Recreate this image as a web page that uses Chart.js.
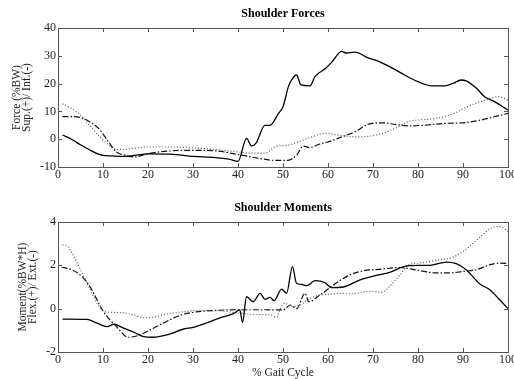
<!DOCTYPE html>
<html lang="en">
<head>
    <meta charset="UTF-8">
    <title>Shoulder Forces and Moments</title>
    <script src="https://cdn.jsdelivr.net/npm/chart.js"></script>
    <style>
        body {
            margin: 0;
            background: #ffffff;
            overflow: hidden;
        }
        canvas {
            display: block;
        }
    </style>
</head>
<body>
    <canvas id="forceChart" width="514" height="190"></canvas>
    <canvas id="momentChart" width="514" height="189"></canvas>

    <script>
        // Shoulder forces (%BW), solid / dotted / dash-dot curves
        const forceSolidX = [1,3,5,7,9,10,12,15,17,20,25,30,35,38,40,41.9,43,44,46,47.1,49,50,51.2,51.9,53,54,56,57.1,59.5,61,63,64,66,69,71,73.7,77,80,83,86,87.8,89.6,90.7,93,94.8,97,100];
        const forceSolidY = [1.5,0,-2,-3.8,-5.4,-5.8,-6,-6.2,-5.8,-5.3,-5.4,-6.2,-6.6,-7.2,-8,0.3,-2.4,-1.4,5,5,9.3,11.7,18.9,21.3,23.1,19.5,19.2,22.5,25.5,28,31.6,31,31.3,29.2,28.2,26.1,23.1,20.7,19.2,19.2,20.1,21.3,21,18.3,15.3,13.5,10.5];
        const forceDotX = [1,3,5,7,9,11,13,15,20,25,30,35,40,43,46,48.5,51,53,56,59.6,63,67,70,72,75,78,80,84,88,91,95,97.8,100];
        const forceDotY = [12.7,11,8.7,5,1.4,-1.8,-3.7,-3.6,-2.8,-2.8,-3.1,-3.7,-4.6,-5,-5,-2.6,-2.2,-1.2,0.6,2.1,1.3,0.8,1.3,2,4,6.4,6.9,7.5,9.3,11.7,14.1,15.3,14.1];
        const forceDashX = [1,3,5,7,9,11,13,15,17,20,25,30,35,40,45,48,51,53,54.5,56,58,60,63,66,69,72,75,78,82,86,90,94,97,100];
        const forceDashY = [8.1,8.1,7.8,6.3,3.9,-0.4,-4.6,-5.8,-6.4,-5.2,-4.2,-4,-4.2,-5.5,-7,-7.6,-7.6,-5.8,-2.5,-3,-1.8,-1,0.8,2.7,5.4,5.9,5.3,4.8,5.1,5.7,5.9,6.9,8.1,9.3];

        // Shoulder moments (%BW*H)
        const momentSolidX = [1,6.4,8.7,10.9,12.4,14.6,17,19,21.2,24.2,27.8,30,33,36,39,40.4,41,41.9,43.4,44.9,46,47.1,48,49.7,50.8,52.1,53,54.1,55.3,57.1,59.3,60.8,63.4,67,71.5,73.7,77,80,82.6,86.3,88.5,90.7,93.7,95.9,98.1,100];
        const momentSolidY = [-0.48,-0.49,-0.67,-0.83,-0.72,-0.9,-1.1,-1.29,-1.32,-1.21,-0.95,-0.86,-0.66,-0.43,-0.23,-0.06,-0.64,0.55,0.32,0.71,0.43,0.52,0.37,0.9,0.71,1.94,1.17,1.12,1.06,1.29,1.2,0.97,1.0,1.32,1.57,1.68,1.95,2,2,2.15,2.08,1.8,1.15,0.88,0.42,0];
        const momentDotX = [1,2,3,5,7,8.7,10,11.6,14,17,19,21,24,28,32,36,40,44,47,48.6,49.3,50.4,52,53.8,56,58.2,60,62.7,65,68,70,72,74,76,78,80,84,88,91,94,96,98,100];
        const momentDotY = [2.94,2.9,2.6,1.8,0.95,0.25,-0.08,-0.17,-0.18,-0.3,-0.42,-0.4,-0.25,-0.14,-0.08,-0.1,-0.2,-0.27,-0.28,-0.4,-0.06,0.25,0.1,0.17,0.48,0.63,0.65,0.71,0.68,0.78,0.8,0.75,1.1,1.57,2.03,2.1,2.23,2.4,2.8,3.34,3.68,3.8,3.57];
        const momentDashX = [0.8,3,4.9,7.1,10.1,13,15.6,18.2,21.2,25.6,27.8,30,35,40,45,50,51.6,53,54.9,55.7,58.2,61.2,64.1,67,72,76,80,84,87,90,93,96,98,100];
        const momentDashY = [1.91,1.8,1.56,1.02,-0.14,-0.83,-1.32,-1.21,-0.9,-0.44,-0.26,-0.17,-0.08,-0.05,-0.05,-0.06,0.17,0,0.71,0.32,0.63,1.09,1.48,1.71,1.83,1.9,1.77,1.65,1.65,1.72,1.8,2.03,2.1,2.08];

        const xTicks = [0, 100, 10];
        const forceTicks = [-10, 40, 10];
        const momentTicks = [-2, 4, 2];

        const serif = '"Liberation Serif", "Times New Roman", serif';

        function toPoints(xs, ys) {
            return xs.map((x, i) => ({ x: x, y: ys[i] }));
        }

        // frame with inward ticks + centred title (matlab look)
        const framePlugin = {
            id: 'frame',
            afterDraw(chart, args, opts) {
                const ctx = chart.ctx;
                const a = chart.chartArea;
                const x = chart.scales.x;
                const y = chart.scales.y;
                ctx.save();
                ctx.strokeStyle = '#555';
                ctx.lineWidth = 1;
                ctx.strokeRect(a.left + 0.5, a.top + 0.5, a.right - a.left, a.bottom - a.top);
                ctx.beginPath();
                x.ticks.forEach(t => {
                    const px = Math.round(x.getPixelForValue(t.value)) + 0.5;
                    ctx.moveTo(px, a.top);
                    ctx.lineTo(px, a.top + 4);
                    ctx.moveTo(px, a.bottom);
                    ctx.lineTo(px, a.bottom - 4);
                });
                y.ticks.forEach(t => {
                    const py = Math.round(y.getPixelForValue(t.value)) + 0.5;
                    ctx.moveTo(a.left, py);
                    ctx.lineTo(a.left + 4, py);
                    ctx.moveTo(a.right, py);
                    ctx.lineTo(a.right - 4, py);
                });
                ctx.stroke();
                ctx.font = 'bold 12px ' + serif;
                ctx.fillStyle = '#000';
                ctx.textAlign = 'center';
                ctx.textBaseline = 'middle';
                ctx.fillText(opts.text, (a.left + a.right) / 2, opts.y);
                ctx.restore();
            }
        };

        function makeChart(id, series, yRange, yTitle, cfg) {
            const ctx = document.getElementById(id).getContext('2d');
            return new Chart(ctx, {
                type: 'line',
                data: {
                    datasets: [
                        {
                            data: toPoints(series[0][0], series[0][1]),
                            borderColor: '#000',
                            borderWidth: 1.3
                        },
                        {
                            data: toPoints(series[1][0], series[1][1]),
                            borderColor: '#555',
                            borderWidth: 1.2,
                            borderDash: [1, 2]
                        },
                        {
                            data: toPoints(series[2][0], series[2][1]),
                            borderColor: '#111',
                            borderWidth: 1.2,
                            borderDash: [6, 2, 1.5, 2]
                        }
                    ]
                },
                options: {
                    responsive: false,
                    animation: false,
                    devicePixelRatio: 1,
                    layout: {
                        padding: { top: cfg.top, right: 6, left: 0, bottom: 0 }
                    },
                    elements: {
                        point: { radius: 0 },
                        line: { cubicInterpolationMode: 'monotone', fill: false }
                    },
                    scales: {
                        x: {
                            type: 'linear',
                            min: xTicks[0],
                            max: xTicks[1],
                            grid: { display: false, drawTicks: false },
                            border: { display: false },
                            ticks: {
                                stepSize: xTicks[2],
                                padding: 1,
                                color: '#222',
                                maxRotation: 0,
                                font: { family: serif, size: 12 }
                            },
                            title: {
                                display: !!cfg.xTitle,
                                text: cfg.xTitle || '',
                                color: '#222',
                                padding: { top: 0, bottom: 0 },
                                font: { family: serif, size: 11.5, lineHeight: 1 }
                            },
                            afterFit(s) {
                                s.height = cfg.xHeight;
                                s.paddingLeft = 0;
                                s.paddingRight = 0;
                            }
                        },
                        y: {
                            min: yRange[0],
                            max: yRange[1],
                            grid: { display: false, drawTicks: false },
                            border: { display: false },
                            ticks: {
                                stepSize: yRange[2],
                                padding: 2,
                                color: '#222',
                                font: { family: serif, size: 12 }
                            },
                            title: {
                                display: true,
                                text: yTitle,
                                color: '#222',
                                padding: { top: cfg.yTitlePad, bottom: 0 },
                                font: { family: serif, size: 11.5, lineHeight: 0.87 }
                            },
                            afterFit(s) {
                                s.width = 58;
                                s.paddingTop = 0;
                                s.paddingBottom = 0;
                            }
                        }
                    },
                    plugins: {
                        legend: { display: false },
                        tooltip: { enabled: false },
                        frame: { text: cfg.title, y: cfg.titleY }
                    }
                },
                plugins: [framePlugin]
            });
        }

        makeChart('forceChart',
            [[forceSolidX, forceSolidY], [forceDotX, forceDotY], [forceDashX, forceDashY]],
            forceTicks,
            ['Force (%BW)', 'Sup.(+)/ Inf.(-)'],
            { top: 28, xHeight: 23, yTitlePad: 12, title: 'Shoulder Forces', titleY: 14 });

        makeChart('momentChart',
            [[momentSolidX, momentSolidY], [momentDotX, momentDotY], [momentDashX, momentDashY]],
            momentTicks,
            ['Moment(%BW*H)', 'Flex.(+)/ Ext.(-)'],
            { top: 32, xHeight: 27, yTitlePad: 18, title: 'Shoulder Moments', titleY: 18, xTitle: '% Gait Cycle' });
    </script>
</body>
</html>
